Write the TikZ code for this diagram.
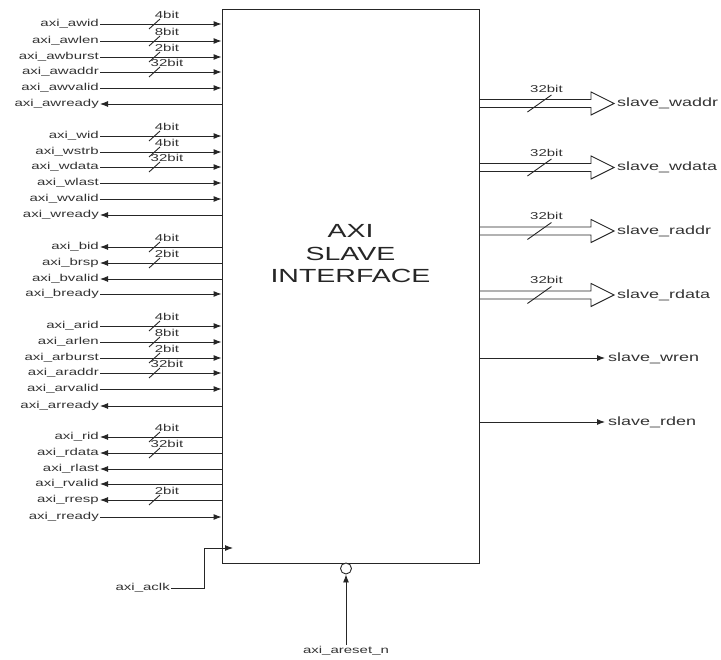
\documentclass[tikz,border=0pt]{standalone}
\usepackage{fontspec}
\setmainfont[FakeStretch=1.5]{Liberation Sans}
\usetikzlibrary{arrows.meta,calc}

\tikzset{
    sig/.style={font=\fontsize{10}{12}\selectfont, text=black!80, inner sep=1pt},
    port/.style={font=\fontsize{12}{14}\selectfont, text=black!80, inner sep=3pt, anchor=west},
    wid/.style={font=\fontsize{10}{12}\selectfont, text=black!80, inner sep=0pt},
    wire/.style={draw=black!85, line width=0.9pt},
}

\begin{document}
\begin{tikzpicture}[x=1pt, y=-1pt, >={Latex[length=8pt,width=6pt]}]
    \useasboundingbox (0,0) rectangle (721,660);

    % the slave block
    \node[wire, minimum width=257pt, minimum height=554pt, inner sep=0pt] (slv) at (350.5,286) {};
    \node[align=center, font=\fontsize{19}{22.5}\selectfont, text=black!85] (ttl) at (350.5,254) {AXI\\SLAVE\\INTERFACE};

    % AXI channels, i = into the block, o = out of it
    \foreach \y/\s/\d in {24/awid/i, 41/awlen/i, 57/awburst/i, 72/awaddr/i, 88/awvalid/i, 104/awready/o,
        136/wid/i, 152/wstrb/i, 167/wdata/i, 183/wlast/i, 199/wvalid/i, 215/wready/o,
        247/bid/o, 263/brsp/o, 279/bvalid/o, 294/bready/i,
        326/arid/i, 342/arlen/i, 358/arburst/i, 373/araddr/i, 389/arvalid/i, 406/arready/o,
        437/rid/o, 453/rdata/o, 469/rlast/o, 484/rvalid/o, 500/rresp/o, 517/rready/i}
    {
        \node[sig, anchor=east] (\s) at (100,\y) {axi\_\s};
        \if\d i \draw[wire,->] (\s.east) -- (\s.east -| slv.west);
        \else \draw[wire,<-] (\s.east) -- (\s.east -| slv.west); \fi
    }

    % bus widths
    \foreach \y/\w in {24/4, 41/8, 57/2, 72/32, 136/4, 152/4, 167/32, 247/4, 263/2,
        326/4, 342/8, 358/2, 373/32, 437/4, 453/32, 500/2}
    {
        \draw[wire] (149,\y+5) -- (160,\y-5);
        \node[wid] (w\y) at (167,\y-9) {\w bit};
    }

    % slave side buses
    \foreach \y/\s in {103.5/waddr, 167.5/wdata, 231/raddr, 295/rdata}
    {
        \node[port] (out-\s) at (614,\y) {slave\_\s};
        \draw[wire] ($(slv.east |- out-\s)+(0,-4)$) -- ($(out-\s.west)+(-23,-4)$) -- ++(0,-7.5)
            -- (out-\s.west) -- ++(-23,11.5) -- ++(0,-7.5) -- ($(slv.east |- out-\s)+(0,4)$);
        \draw[wire] ($(slv.east |- out-\s)+(48,8.5)$) -- ++(24,-17);
        \node[wid] (b-\s) at ($(slv.east |- out-\s)+(67,-15)$) {32bit};
    }

    % enables
    \foreach \y/\s in {358/wren, 422/rden}
    {
        \node[port] (out-\s) at (605,\y) {slave\_\s};
        \draw[wire,->] (slv.east |- out-\s) -- (out-\s.west);
    }

    % clock and reset
    \node[sig, anchor=east] (clk) at (171,588) {axi\_aclk};
    \coordinate (ckin) at (233,548);
    \draw[wire,->] (clk.east) -- ++(33,0) |- (ckin);

    \node[sig] (rst) at (346,651) {axi\_areset\_n};
    \node[wire, circle, minimum size=11pt, inner sep=0pt, fill=white] (inv) at (346,568.5) {};
    \draw[wire,->] (rst.north) -- (inv.south);
\end{tikzpicture}
\end{document}
